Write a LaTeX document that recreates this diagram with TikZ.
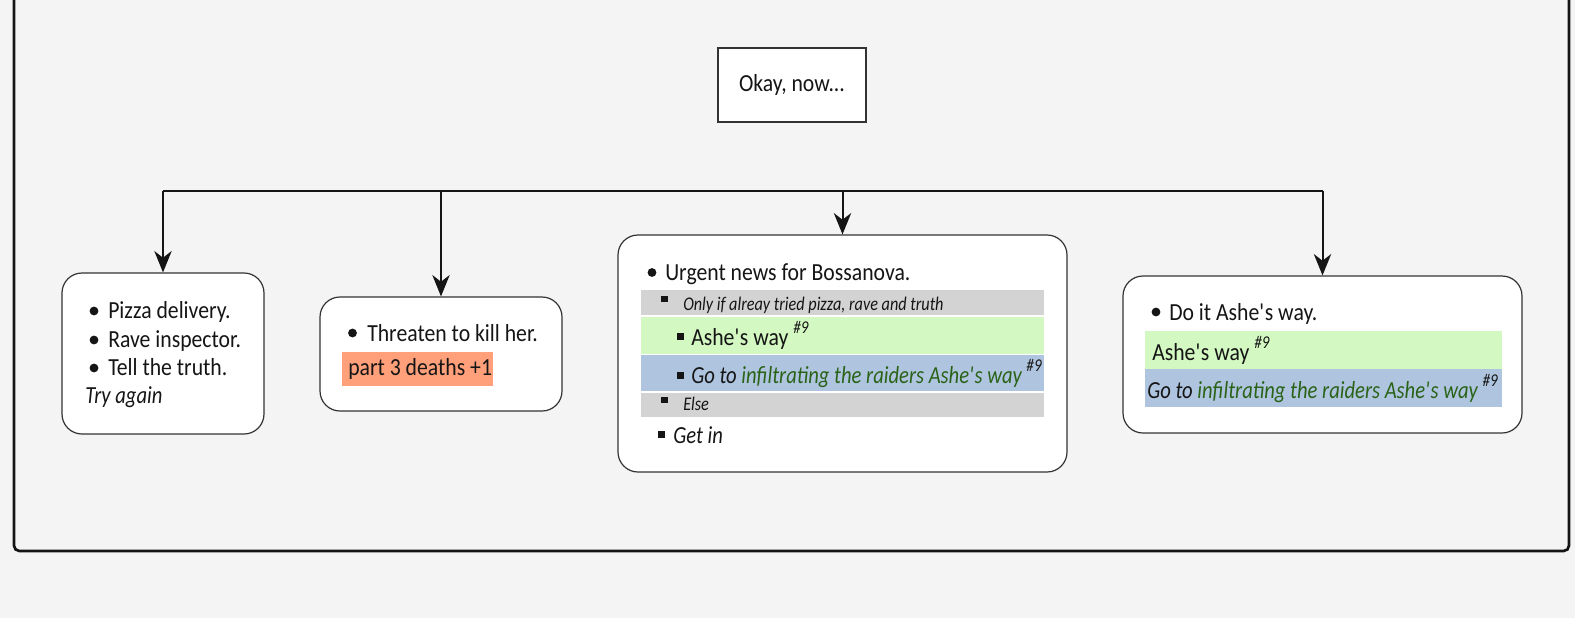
\documentclass[tikz,border=0pt]{standalone}
\usepackage{fontspec}
\setmainfont{Carlito}[FakeStretch=0.885, ItalicFeatures={FakeStretch=0.84}]
\usetikzlibrary{arrows.meta}
\definecolor{pagebg}{HTML}{F4F4F4}
\definecolor{ink}{HTML}{151515}
\definecolor{edge}{HTML}{333333}
\definecolor{condgray}{HTML}{D3D3D3}
\definecolor{okgreen}{HTML}{D4F8C2}
\definecolor{gotoblue}{HTML}{AFC4DF}
\definecolor{deathred}{HTML}{FFA07A}
\definecolor{linkgreen}{HTML}{2A6318}
\newcommand{\refmark}{\raisebox{8.5pt}{\fontsize{13.5pt}{15pt}\selectfont\itshape\#9}}
\newcommand{\ap}{\textquotesingle}
\begin{document}
\begin{tikzpicture}[x=0.75pt,y=-0.75pt,
  card/.style={draw=edge, line width=0.9pt, fill=white, rounded corners=15pt, inner sep=0pt},
  plainbox/.style={draw=edge, line width=0.8pt, fill=white, inner sep=0pt},
  txt/.style={anchor=base west, inner sep=0pt, text=ink, font=\fontsize{18.4pt}{22pt}\selectfont},
  itxt/.style={txt, font=\fontsize{18.4pt}{22pt}\selectfont\itshape},
  note/.style={txt, font=\fontsize{14.5pt}{17pt}\selectfont\itshape},
  dot/.style={fill=ink, draw=none},
  bar/.style={line width=1.7pt, draw=ink},
  link/.style={line width=1.5pt, draw=ink, -{Stealth[length=16pt, width=13pt, inset=5pt]}}
]
\useasboundingbox (0,0) rectangle (1575,618);
\fill[pagebg] (0,0) rectangle (1575,618);
\begin{scope}
  \clip (0,0) rectangle (1575,618);
  \draw[line width=2pt, draw=ink, rounded corners=4pt] (14,-20) rectangle (1569,551);
\end{scope}

% start node
\node[plainbox, minimum width=111pt, minimum height=55.5pt, text=ink, font=\fontsize{18.4pt}{22pt}\selectfont] (start) at (792,85) {Okay, now...};

% choice cards
\node[card, minimum width=151.5pt, minimum height=120.75pt] (c1) at (163,353.5) {};
\node[card, minimum width=181.5pt, minimum height=85.5pt] (c2) at (441,354) {};
\node[card, minimum width=336.75pt, minimum height=177.75pt] (c3) at (842.5,353.5) {};
\node[card, minimum width=299.25pt, minimum height=117.75pt] (c4) at (1322.5,354.5) {};

% branching bar and arrows
\coordinate (j1) at (c1.north |- 0,191);
\coordinate (j2) at (c2.north |- 0,191);
\coordinate (j3) at (c3.north |- 0,191);
\coordinate (j4) at (c4.north |- 0,191);
\draw[bar] (j1) -- (j4);
\draw[link] (j1) -- (c1.north);
\draw[link] (j2) -- (c2.north);
\draw[link] (j3) -- (c3.north);
\draw[link] (j4) -- (c4.north);

% card 1
\fill[dot] (94,311) circle[radius=3.3pt];
\fill[dot] (94,340) circle[radius=3.3pt];
\fill[dot] (94,368) circle[radius=3.3pt];
\node[txt] (t11) at (108,318) {Pizza delivery.};
\node[txt] (t12) at (108,347) {Rave inspector.};
\node[txt] (t13) at (108,375) {Tell the truth.};
\node[itxt] (t14) at (85,403) {Try again};

% card 2
\fill[dot] (352.5,333) circle[radius=3.3pt];
\node[txt] (t21) at (367,341) {Threaten to kill her.};
\fill[deathred] (342,352) rectangle (493,386);
\node[txt] (t22) at (348,375) {part 3 deaths +1};

% card 3
\fill[dot] (652,272.5) circle[radius=3.3pt];
\node[txt] (t31) at (665,280) {Urgent news for Bossanova.};
\fill[condgray] (641,290) rectangle (1044,315);
\fill[okgreen] (641,316.5) rectangle (1044,353.5);
\fill[gotoblue] (641,355) rectangle (1044,391);
\fill[condgray] (641,392.5) rectangle (1044,417);
\fill[dot] (661,296) rectangle (668,302);
\node[note] (t32) at (683,310) {Only if alreay tried pizza, rave and truth};
\fill[dot] (677,333) rectangle (684,340);
\node[txt] (t33) at (691,345) {Ashe\ap s way~\refmark};
\fill[dot] (677,371.5) rectangle (684,378.5);
\node[itxt] (t34) at (691,383)
  {Go to \textcolor{linkgreen}{infiltrating the raiders Ashe\ap s way}~\refmark};
\fill[dot] (661,397) rectangle (668,403);
\node[note] (t35) at (683,410) {Else};
\fill[dot] (658,431) rectangle (665,438);
\node[itxt] (t36) at (673,443) {Get in};

% card 4
\fill[dot] (1156,312) circle[radius=3.3pt];
\node[txt] (t41) at (1169,320) {Do it Ashe\ap s way.};
\fill[okgreen] (1145,331) rectangle (1502,369);
\node[txt] (t42) at (1152,360) {Ashe\ap s way~\refmark};
\fill[gotoblue] (1145,369) rectangle (1502,407);
\node[itxt] (t43) at (1147,398)
  {Go to \textcolor{linkgreen}{infiltrating the raiders Ashe\ap s way}~\refmark};
\end{tikzpicture}
\end{document}
